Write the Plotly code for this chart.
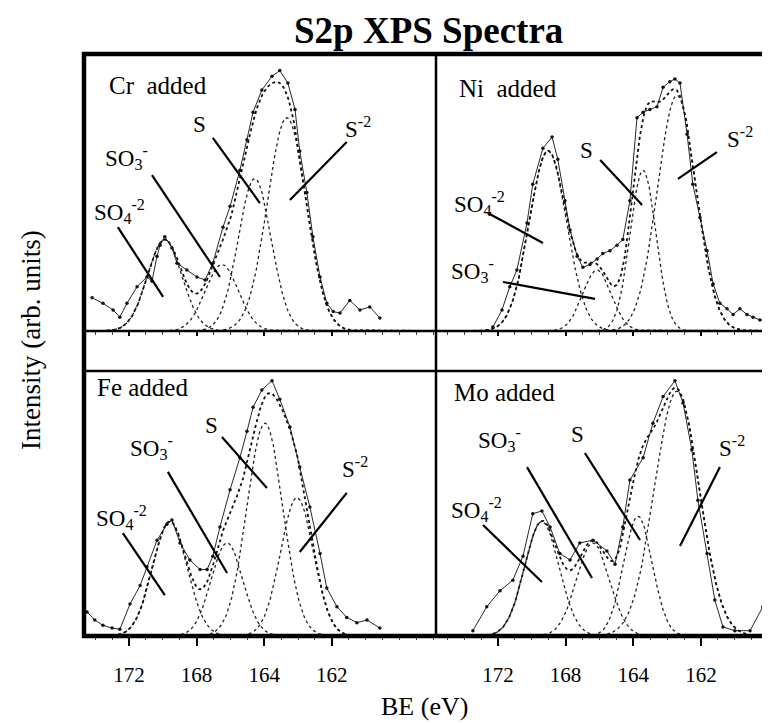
import numpy as np
import plotly.graph_objects as go

# ---------------- data ----------------
tick_vals = [170, 168, 166, 164]
tick_text = ["172", "168", "164", "162"]
panel_titles = ["Cr\u00a0\u00a0added", "Ni\u00a0\u00a0added", "Fe added", "Mo added"]
species_labels = ["SO<sub>4</sub><sup>-2</sup>", "SO<sub>3</sub><sup>-</sup>", "S", "S<sup>-2</sup>"]

# measured spectra (BE in eV, intensity in arb. units)
cr_be = [171.09, 170.77, 170.47, 170.27, 170.06, 169.76, 169.47, 169.32, 169.17, 169.08,
         168.94, 168.73, 168.58, 168.29, 167.99, 167.75, 167.52, 167.22, 167.01, 166.72,
         166.51, 166.33, 166.07, 165.77, 165.54, 165.30, 165.09, 164.95, 164.74, 164.56,
         164.35, 164.15, 163.96, 163.76, 163.47, 163.17, 162.88, 162.58]
cr_int = [12, 10, 7.6, 5, 10, 16, 19.5, 18, 27, 31,
          34, 30, 24.5, 22, 19.5, 18.4, 24.5, 37.5, 45, 58,
          69, 79, 87, 92, 94, 89.5, 80, 65, 50, 34,
          19.5, 10, 7, 6.5, 11, 7.6, 8.7, 4.7]

ni_be = [170.15, 169.88, 169.65, 169.44, 169.14, 168.97, 168.67, 168.40, 168.23, 168.02,
         167.87, 167.66, 167.49, 167.28, 167.07, 166.90, 166.69, 166.48, 166.31, 166.10,
         165.89, 165.71, 165.51, 165.30, 165.12, 164.92, 164.77, 164.62, 164.41, 164.24,
         164.03, 163.82, 163.64, 163.44, 163.23, 163.05, 162.85, 162.64, 162.46, 162.26,
         162.05]
ni_int = [1.4, 7.6, 16, 22, 39, 53, 66, 70, 62, 47,
          36.5, 27, 23, 24, 26, 28, 29, 31, 33, 47,
          77, 79, 80, 81, 88, 90, 91, 89.5, 71, 53,
          41, 29, 17, 10, 8, 6, 8, 6, 5, 4,
          4]

fe_be = [171.24, 171.01, 170.77, 170.50, 170.27, 169.97, 169.67, 169.47, 169.17, 168.88,
         168.73, 168.49, 168.20, 167.90, 167.69, 167.52, 167.31, 167.01, 166.72, 166.51,
         166.33, 166.07, 165.77, 165.54, 165.24, 164.95, 164.65, 164.35, 164.15, 163.85,
         163.56, 163.26, 162.96, 162.58]
fe_int = [9, 6, 4, 3, 2.5, 12, 19, 26, 36, 42,
          43.6, 35, 28.6, 25, 25, 30, 41, 55, 67, 77,
          86, 92.5, 96, 89, 78.6, 63.5, 48.5, 31, 18, 11,
          7, 5, 6, 3]

mo_be = [170.74, 170.33, 169.94, 169.56, 169.26, 168.97, 168.70, 168.46, 168.17, 167.87,
         167.58, 167.19, 166.78, 166.54, 166.31, 166.10, 165.71, 165.42, 165.12, 164.77,
         164.53, 164.27, 164.09, 163.82, 163.59, 163.35, 163.00, 162.55, 162.17, 161.96]
mo_int = [2, 11, 17, 21, 30, 46, 47, 41, 31, 28.6,
          35, 36, 32, 27, 41, 58.6, 67, 80, 90, 96,
          87.6, 70, 51, 31, 13.5, 3.4, 2, 2, 11, 3]

# fitted components, order: SO4-2, SO3-, S, S-2  (center eV, height, FWHM eV)
cr_centers = [168.94, 167.25, 166.28, 165.33]
cr_heights = [33, 24, 55, 77]
cr_fwhm = [1.2, 1.15, 1.15, 1.35]

ni_centers = [168.52, 167.07, 165.71, 164.71]
ni_heights = [65, 22, 58, 85]
ni_fwhm = [1.3, 1.0, 0.9, 1.35]

fe_centers = [168.79, 167.10, 165.98, 165.03]
fe_heights = [43, 35, 80, 52]
fe_fwhm = [1.2, 1.1, 1.25, 1.15]

mo_centers = [168.70, 167.19, 165.86, 164.71]
mo_heights = [43, 35, 45, 92]
mo_fwhm = [1.2, 1.15, 1.0, 1.55]

# ---------------- layout helpers ----------------
# the page body has an 8px margin, so the figure is drawn 8px in from the window corner
OFF = 8
W, H = 770 - OFF, 723 - OFF
def fx(px):
    return (px - OFF) / W
def fy(py):
    return 1 - (py - OFF) / H

FONT = "Liberation Serif, Times New Roman, serif"

panels = [
    dict(name=panel_titles[0], be=cr_be, it=cr_int, c=cr_centers, h=cr_heights, w=cr_fwhm,
         xdom=[fx(84), fx(435)], ydom=[fy(331), fy(54)], xr=[171.33, 160.95], bottom=False,
         title_pos=(170.65, 88.8),
         labels=[(170.27, 43.0), (170.06, 62.8), (167.90, 74.4), (163.23, 73.6)],
         leaders=[((170.33, 37.5), (168.99, 12.3)), ((169.32, 56.3), (167.31, 19.5)),
                  ((167.52, 69.7), (166.13, 46.2)), ((163.56, 68.2), (165.24, 47.3))]),
    dict(name=panel_titles[1], be=ni_be, it=ni_int, c=ni_centers, h=ni_heights, w=ni_fwhm,
         xdom=[fx(436), 1.0], ydom=[fy(331), fy(54)], xr=[171.83, 161.96], bottom=False,
         title_pos=(171.21, 87.4),
         labels=[(170.53, 46.2), (170.74, 22.0), (167.37, 65.3), (162.85, 69.7)],
         leaders=[((170.30, 42.6), (168.67, 31.8)), ((169.85, 17.7), (167.13, 11.6)),
                  ((166.98, 61.7), (165.74, 45.5)), ((163.53, 64.6), (164.68, 54.9))]),
    dict(name=panel_titles[2], be=fe_be, it=fe_int, c=fe_centers, h=fe_heights, w=fe_fwhm,
         xdom=[fx(84), fx(435)], ydom=[fy(636), fy(370)], xr=[171.33, 160.95], bottom=True,
         title_pos=(171.0, 93.6),
         labels=[(170.21, 44.4), (169.32, 70.7), (167.55, 79.3), (163.32, 63.2)],
         leaders=[((170.18, 38.7), (168.94, 15.4)), ((168.85, 61.7), (167.10, 23.7)),
                  ((167.25, 74.8), (165.92, 55.6)), ((163.56, 53.8), (164.95, 31.6))]),
    dict(name=panel_titles[3], be=mo_be, it=mo_int, c=mo_centers, h=mo_heights, w=mo_fwhm,
         xdom=[fx(436), 1.0], ydom=[fy(636), fy(370)], xr=[171.83, 161.96], bottom=True,
         title_pos=(171.36, 91.7),
         labels=[(170.62, 47.4), (169.94, 73.7), (167.66, 75.6), (163.08, 71.4)],
         leaders=[((170.44, 41.7), (168.70, 20.3)), ((169.14, 63.5), (167.22, 21.8)),
                  ((167.43, 68.8), (165.80, 36.1)), ((163.44, 63.5), (164.62, 33.8))]),
]

def gauss(x, c, h, w):
    return h * np.exp(-4 * np.log(2) * (x - c) ** 2 / w ** 2)

fig = go.Figure()
annotations = []
shapes = []

for i, p in enumerate(panels):
    k = "" if i == 0 else str(i + 1)
    xa, ya = "x" + k, "y" + k
    grid = np.linspace(min(p["xr"]), max(p["xr"]), 400)
    total = np.zeros_like(grid)
    for c, h, w in zip(p["c"], p["h"], p["w"]):
        comp = gauss(grid, c, h, w)
        total += comp
        fig.add_trace(go.Scatter(x=grid, y=comp, mode="lines", xaxis=xa, yaxis=ya,
                                 line=dict(color="#222", width=1.3, dash="dot"),
                                 showlegend=False, hoverinfo="skip"))
    fig.add_trace(go.Scatter(x=grid, y=total, mode="lines", xaxis=xa, yaxis=ya,
                             line=dict(color="#111", width=1.8, dash="dot"),
                             showlegend=False, hoverinfo="skip"))
    fig.add_trace(go.Scatter(x=p["be"], y=p["it"], mode="lines+markers", xaxis=xa, yaxis=ya,
                             line=dict(color="#111", width=0.9),
                             marker=dict(color="#111", size=3.5),
                             showlegend=False))

    xaxis = dict(domain=p["xdom"], range=p["xr"], anchor=ya, showgrid=False, zeroline=False,
                 showline=False, ticks="outside", tickcolor="black", tickwidth=1.5,
                 tickvals=tick_vals, ticktext=tick_text,
                 minor=dict(dtick=0.5, tick0=170, ticks="outside", ticklen=3,
                            tickcolor="#444", tickwidth=1))
    if p["bottom"]:
        xaxis.update(ticklen=9, showticklabels=True, ticklabelstandoff=11,
                     tickfont=dict(family=FONT, size=21, color="black"))
    else:
        xaxis.update(ticklen=4, showticklabels=False)
    yaxis = dict(domain=p["ydom"], range=[0, 100], anchor=xa, showgrid=False, zeroline=False,
                 showline=False, showticklabels=False, ticks="")
    fig.update_layout(**{"xaxis" + k: xaxis, "yaxis" + k: yaxis})

    annotations.append(dict(x=p["title_pos"][0], y=p["title_pos"][1], xref=xa, yref=ya,
                            text=p["name"], showarrow=False, xanchor="left", yanchor="middle",
                            font=dict(family=FONT, size=25, color="black")))
    for lab, (lx, ly) in zip(species_labels, p["labels"]):
        annotations.append(dict(x=lx, y=ly, xref=xa, yref=ya, text=lab, showarrow=False,
                                xanchor="center", yanchor="middle",
                                font=dict(family=FONT, size=23, color="black")))
    for (x0, y0), (x1, y1) in p["leaders"]:
        shapes.append(dict(type="line", xref=xa, yref=ya, x0=x0, y0=y0, x1=x1, y1=y1,
                           line=dict(color="black", width=2.2)))

# frame
frame = [
    ((82, 54), (770, 54), 4.5),
    ((82, 636), (770, 636), 4.5),
    ((84, 52), (84, 638), 4.5),
    ((436, 54), (436, 636), 2.5),
    ((84, 331), (770, 331), 2.5),
    ((84, 371), (770, 371), 2.5),
]
for (a, b), (c, d), w in frame:
    shapes.append(dict(type="line", xref="paper", yref="paper", x0=fx(a), y0=fy(b),
                       x1=fx(c), y1=fy(d), line=dict(color="black", width=w)))

annotations += [
    dict(x=fx(428), y=fy(30), xref="paper", yref="paper", text="<b>S2p XPS Spectra</b>",
         showarrow=False, xanchor="center", yanchor="middle",
         font=dict(family=FONT, size=37, color="black")),
    dict(x=fx(31), y=fy(340), xref="paper", yref="paper", text="Intensity (arb. units)",
         showarrow=False, textangle=-90, xanchor="center", yanchor="middle",
         font=dict(family=FONT, size=27, color="black")),
    dict(x=fx(424), y=fy(706), xref="paper", yref="paper", text="BE (eV)",
         showarrow=False, xanchor="center", yanchor="middle",
         font=dict(family=FONT, size=26, color="black")),
]

fig.update_layout(width=W, height=H, margin=dict(l=0, r=0, t=0, b=0),
                  paper_bgcolor="white", plot_bgcolor="white",
                  annotations=annotations, shapes=shapes, showlegend=False)

fig.write_html("out.html")
